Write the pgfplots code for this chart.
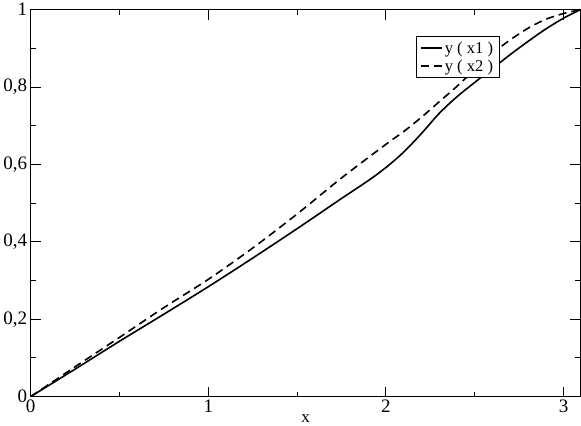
\documentclass[border=0pt]{standalone}
\usepackage{fontspec}
\setmainfont{Liberation Serif}
\usepackage{pgfplots}
\pgfplotsset{compat=1.18}
\begin{document}
\begin{tikzpicture}
\begin{axis}[
  scale only axis, width=547bp, height=385bp,
  xmin=0, xmax=3.095, ymin=0, ymax=1,
  xtick={0,1,2,3}, ytick={0,0.2,0.4,0.6,0.8,1},
  minor x tick num=1, minor y tick num=1,
  tick align=inside, major tick length=10bp, minor tick length=5bp,
  axis line style={line width=1bp},
  every tick/.style={black, line width=1bp},
  /pgf/number format/assume math mode=true, /pgf/number format/use comma,
  ticklabel style={font=\fontsize{19}{19}\selectfont},
  xlabel={x}, xlabel style={font=\fontsize{17}{17}\selectfont, yshift=5bp},
  legend style={at={(axis cs:2.167,0.931)}, anchor=north west, draw=black,
    line width=0.9bp, font=\fontsize{16.5}{19}\selectfont, inner xsep=4bp, inner ysep=3bp,
    row sep=1bp, cells={anchor=west}},
  legend image code/.code={\draw[#1] (0bp,0bp) -- (21bp,0bp);},
]
\addplot[black, line width=1.6bp, smooth] coordinates {
(0,0) (0.25,0.071) (0.5,0.143) (0.75,0.213) (1.0,0.284) (1.25,0.358)
(1.5,0.434) (1.75,0.512) (1.9,0.558) (2.0,0.592) (2.1,0.632) (2.2,0.680)
(2.3,0.732) (2.4,0.775) (2.5,0.812) (2.6,0.848) (2.7,0.884) (2.8,0.918)
(2.9,0.950) (3.0,0.978) (3.095,1.0)
};
\addlegendentry{y ( x1 )}
\addplot[black, line width=1.6bp, dash pattern=on 8bp off 5bp, smooth] coordinates {
(0,0) (0.25,0.077) (0.5,0.153) (0.75,0.230) (1.0,0.303) (1.25,0.384)
(1.5,0.472) (1.75,0.565) (2.0,0.652) (2.1,0.685) (2.2,0.722) (2.3,0.762)
(2.4,0.802) (2.5,0.845) (2.6,0.887) (2.7,0.922) (2.8,0.952) (2.9,0.975)
(3.0,0.990) (3.095,1.0)
};
\addlegendentry{y ( x2 )}
\end{axis}
\end{tikzpicture}
\end{document}
